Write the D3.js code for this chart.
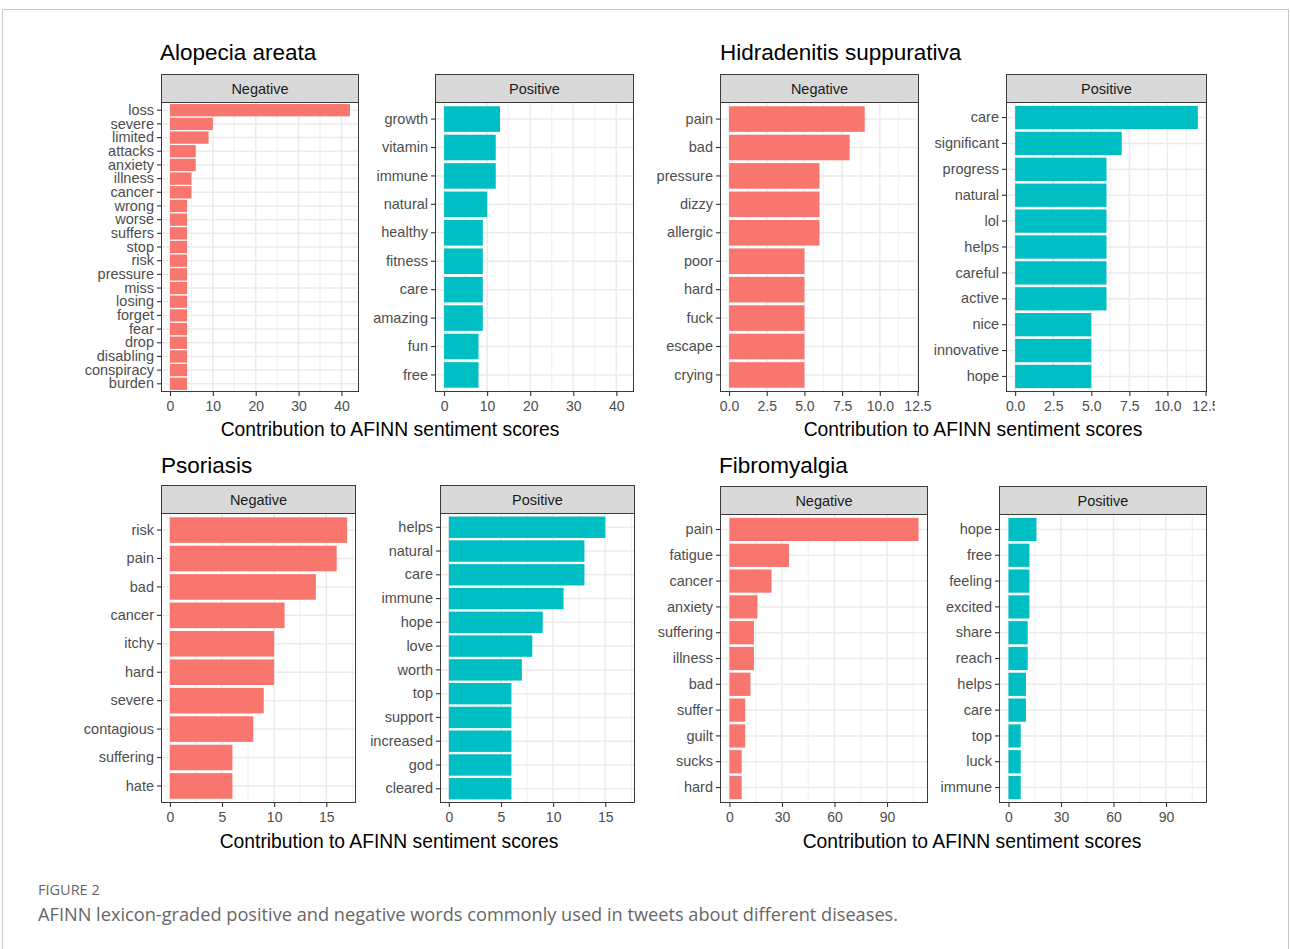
<!DOCTYPE html>
<html>
<head>
<meta charset="utf-8">
<script src="https://cdn.jsdelivr.net/npm/d3@7"></script>
<style>
  html, body { margin: 0; padding: 0; background: #fff; }
  svg { display: block; }
</style>
</head>
<body>
<svg id="chart" width="1290" height="949"></svg>
<script>
// ---- Data: top AFINN-weighted words per disease ----
const alopeciaNegWords = ["loss","severe","limited","attacks","anxiety","illness","cancer","wrong","worse","suffers","stop","risk","pressure","miss","losing","forget","fear","drop","disabling","conspiracy","burden"];
const alopeciaNegValues = [42,10,9,6,6,5,5,4,4,4,4,4,4,4,4,4,4,4,4,4,4];
const alopeciaPosWords = ["growth","vitamin","immune","natural","healthy","fitness","care","amazing","fun","free"];
const alopeciaPosValues = [13,12,12,10,9,9,9,9,8,8];

const hidradenitisNegWords = ["pain","bad","pressure","dizzy","allergic","poor","hard","fuck","escape","crying"];
const hidradenitisNegValues = [9,8,6,6,6,5,5,5,5,5];
const hidradenitisPosWords = ["care","significant","progress","natural","lol","helps","careful","active","nice","innovative","hope"];
const hidradenitisPosValues = [12,7,6,6,6,6,6,6,5,5,5];

const psoriasisNegWords = ["risk","pain","bad","cancer","itchy","hard","severe","contagious","suffering","hate"];
const psoriasisNegValues = [17,16,14,11,10,10,9,8,6,6];
const psoriasisPosWords = ["helps","natural","care","immune","hope","love","worth","top","support","increased","god","cleared"];
const psoriasisPosValues = [15,13,13,11,9,8,7,6,6,6,6,6];

const fibroNegWords = ["pain","fatigue","cancer","anxiety","suffering","illness","bad","suffer","guilt","sucks","hard"];
const fibroNegValues = [108,34,24,16,14,14,12,9,9,7,7];
const fibroPosWords = ["hope","free","feeling","excited","share","reach","helps","care","top","luck","immune"];
const fibroPosValues = [16,12,12,12,11,11,10,10,7,7,7];

const alopeciaTicks = [0,10,20,30,40];
const hidradenitisTicks = [0,2.5,5,7.5,10,12.5];
const psoriasisTicks = [0,5,10,15];
const fibroTicks = [0,30,60,90];

const facetLabels = ["Negative","Positive"];
const axisTitle = "Contribution to AFINN sentiment scores";
const figureLabel = "FIGURE 2";
const captionText = "AFINN lexicon-graded positive and negative words commonly used in tweets about different diseases.";

// ---- Styling ----
const NEG_COLOR = "#F8766D";
const POS_COLOR = "#00BFC4";
const GRID = "#EBEBEB";
const BORDER = "#3a3a3a";
const FONT = "'Liberation Sans', Arial, sans-serif";

const svg = d3.select("#chart");

// outer figure frame
svg.append("rect")
  .attr("x", 2.5).attr("y", 9.5)
  .attr("width", 1286).attr("height", 960)
  .attr("fill", "none").attr("stroke", "#c8c8c8").attr("stroke-width", 1);

const blocks = [
  { title: "Alopecia areata", tx: 160, ty: 60, top: 74, bottom: 392,
    panels: [ {x0:161, x1:359, words: alopeciaNegWords, values: alopeciaNegValues, color: NEG_COLOR},
              {x0:435, x1:634, words: alopeciaPosWords, values: alopeciaPosValues, color: POS_COLOR} ],
    ticks: alopeciaTicks, fmt: d3.format("d"), axisX: 390, axisY: 436, clipRight: null },
  { title: "Hidradenitis suppurativa", tx: 720, ty: 60, top: 74, bottom: 392,
    panels: [ {x0:720, x1:919, words: hidradenitisNegWords, values: hidradenitisNegValues, color: NEG_COLOR},
              {x0:1006, x1:1207, words: hidradenitisPosWords, values: hidradenitisPosValues, color: POS_COLOR} ],
    ticks: hidradenitisTicks, fmt: d3.format(".1f"), axisX: 973, axisY: 436, clipRight: 1215 },
  { title: "Psoriasis", tx: 161, ty: 473, top: 485, bottom: 803,
    panels: [ {x0:161, x1:356, words: psoriasisNegWords, values: psoriasisNegValues, color: NEG_COLOR},
              {x0:440, x1:635, words: psoriasisPosWords, values: psoriasisPosValues, color: POS_COLOR} ],
    ticks: psoriasisTicks, fmt: d3.format("d"), axisX: 389, axisY: 848, clipRight: null },
  { title: "Fibromyalgia", tx: 719, ty: 473, top: 486, bottom: 803,
    panels: [ {x0:720, x1:928, words: fibroNegWords, values: fibroNegValues, color: NEG_COLOR},
              {x0:999, x1:1207, words: fibroPosWords, values: fibroPosValues, color: POS_COLOR} ],
    ticks: fibroTicks, fmt: d3.format("d"), axisX: 972, axisY: 848, clipRight: null }
];

const STRIP_H = 28;

blocks.forEach((b, bi) => {
  const g = svg.append("g");
  if (b.clipRight) {
    const id = "clip" + bi;
    svg.append("defs").append("clipPath").attr("id", id)
      .append("rect").attr("x", 0).attr("y", 0).attr("width", b.clipRight).attr("height", 949);
    g.attr("clip-path", `url(#${id})`);
  }

  g.append("text")
    .attr("x", b.tx).attr("y", b.ty)
    .attr("font-family", FONT).attr("font-size", 22.5).attr("fill", "#000")
    .text(b.title);

  // both panels share one x scale, with ggplot-style 5% expansion
  const maxVal = d3.max(b.panels, p => d3.max(p.values));
  const domain = [-0.05 * maxVal, 1.05 * maxVal];
  const minorTicks = [];
  const stepT = b.ticks[1] - b.ticks[0];
  for (let t = b.ticks[0] - stepT / 2; t <= domain[1]; t += stepT) {
    if (t >= domain[0]) minorTicks.push(t);
  }

  b.panels.forEach((p, pi) => {
    const plotTop = b.top + STRIP_H;
    const x = d3.scaleLinear().domain(domain).range([p.x0, p.x1]);
    const y = d3.scaleBand().domain(p.words)
      .range([plotTop, b.bottom]).paddingInner(0.1).paddingOuter(0.15);

    const pg = g.append("g");

    // panel background
    pg.append("rect").attr("x", p.x0).attr("y", plotTop)
      .attr("width", p.x1 - p.x0).attr("height", b.bottom - plotTop).attr("fill", "#fff");

    // minor vertical grid
    pg.selectAll("line.minor").data(minorTicks).join("line")
      .attr("x1", d => x(d)).attr("x2", d => x(d))
      .attr("y1", plotTop).attr("y2", b.bottom)
      .attr("stroke", GRID).attr("stroke-width", 0.8);
    // major vertical grid
    pg.selectAll("line.major").data(b.ticks).join("line")
      .attr("x1", d => x(d)).attr("x2", d => x(d))
      .attr("y1", plotTop).attr("y2", b.bottom)
      .attr("stroke", GRID).attr("stroke-width", 1.5);
    // horizontal grid at categories
    pg.selectAll("line.hgrid").data(p.words).join("line")
      .attr("x1", p.x0).attr("x2", p.x1)
      .attr("y1", d => y(d) + y.bandwidth() / 2).attr("y2", d => y(d) + y.bandwidth() / 2)
      .attr("stroke", GRID).attr("stroke-width", 1.5);

    // bars
    pg.selectAll("rect.bar").data(p.words.map((w, i) => ({ w, v: p.values[i] }))).join("rect")
      .attr("x", x(0)).attr("y", d => y(d.w))
      .attr("width", d => x(d.v) - x(0)).attr("height", y.bandwidth())
      .attr("fill", p.color);

    // panel border
    pg.append("rect").attr("x", p.x0 + 0.5).attr("y", plotTop + 0.5)
      .attr("width", p.x1 - p.x0 - 1).attr("height", b.bottom - plotTop - 1)
      .attr("fill", "none").attr("stroke", BORDER).attr("stroke-width", 1);

    // strip
    pg.append("rect").attr("x", p.x0 + 0.5).attr("y", b.top + 0.5)
      .attr("width", p.x1 - p.x0 - 1).attr("height", STRIP_H)
      .attr("fill", "#D9D9D9").attr("stroke", BORDER).attr("stroke-width", 1);
    pg.append("text")
      .attr("x", (p.x0 + p.x1) / 2).attr("y", b.top + STRIP_H / 2 + 6)
      .attr("text-anchor", "middle")
      .attr("font-family", FONT).attr("font-size", 14.5).attr("fill", "#1A1A1A")
      .text(facetLabels[pi]);

    // y axis
    const yAxis = d3.axisLeft(y).tickSize(4).tickPadding(3);
    const ya = pg.append("g").attr("transform", `translate(${p.x0},0)`).call(yAxis);
    ya.select(".domain").remove();
    ya.selectAll(".tick line").attr("stroke", "#333").attr("stroke-width", 1.1);
    ya.selectAll(".tick text").attr("font-family", FONT).attr("font-size", 14.5).attr("fill", "#4D4D4D");

    // x axis
    const xAxis = d3.axisBottom(x).tickValues(b.ticks).tickFormat(b.fmt).tickSize(4).tickPadding(5);
    const xa = pg.append("g").attr("transform", `translate(0,${b.bottom})`).call(xAxis);
    xa.select(".domain").remove();
    xa.selectAll(".tick line").attr("stroke", "#333").attr("stroke-width", 1.1);
    xa.selectAll(".tick text").attr("font-family", FONT).attr("font-size", 14).attr("fill", "#4D4D4D");
  });

  g.append("text")
    .attr("x", b.axisX).attr("y", b.axisY)
    .attr("text-anchor", "middle")
    .attr("font-family", FONT).attr("font-size", 19.3).attr("fill", "#000")
    .text(axisTitle);
});

// figure caption
svg.append("text")
  .attr("x", 38).attr("y", 895)
  .attr("font-family", "'Open Sans', sans-serif").attr("font-size", 14.5)
  .attr("fill", "#666").text(figureLabel);
svg.append("text")
  .attr("x", 38).attr("y", 921)
  .attr("font-family", "'Open Sans', sans-serif").attr("font-size", 18.2)
  .attr("fill", "#666").text(captionText);
</script>
</body>
</html>
